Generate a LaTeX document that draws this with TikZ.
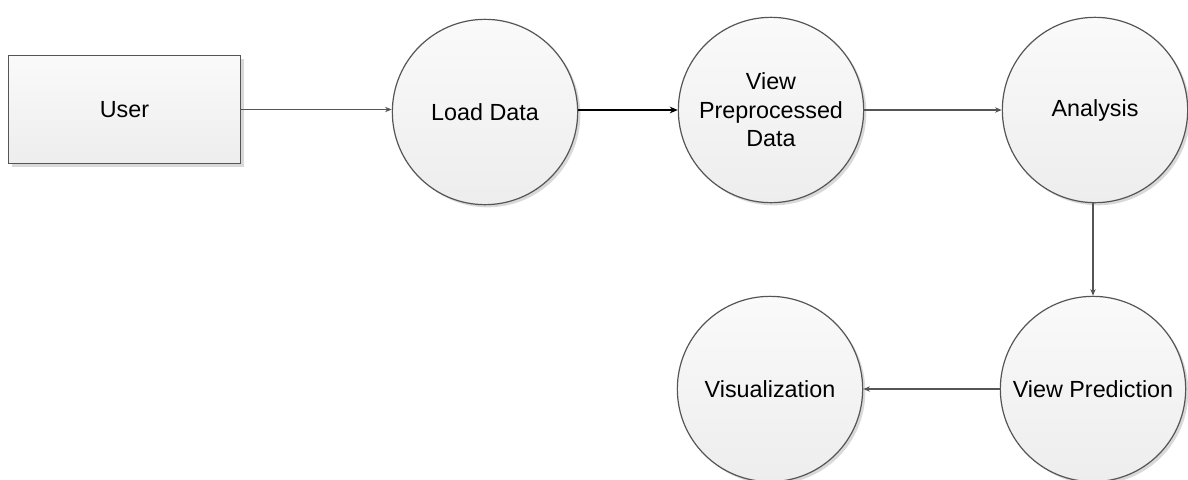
\documentclass[tikz,border=0pt]{standalone}
\usepackage{fontspec}
\setmainfont{Liberation Sans}
\usetikzlibrary{arrows.meta,shadows}
\definecolor{edge}{HTML}{555555}
\tikzset{
  proc/.style={circle, draw=edge, line width=0.9pt, minimum size=139pt, inner sep=0pt,
    top color=white!98!black, bottom color=black!7, align=center,
    font=\fontsize{17.5}{21.4}\selectfont,
    drop shadow={shadow xshift=2pt, shadow yshift=-2pt, fill=black!15, opacity=1}},
  ent/.style={rectangle, draw=edge, line width=0.9pt, minimum width=174pt, minimum height=81.5pt,
    top color=white!98!black, bottom color=black!7, inner sep=0pt,
    font=\fontsize{17.5}{21.4}\selectfont,
    drop shadow={shadow xshift=2.5pt, shadow yshift=-2.5pt, fill=black!15, opacity=1}},
  flow/.style={draw=edge, line width=1pt, -{Stealth[length=5pt,width=4pt]}},
  flowdark/.style={draw=black, line width=1.3pt, -{Stealth[length=6pt,width=5pt]}}
}
\begin{document}
\begin{tikzpicture}[x=0.75pt,y=-0.75pt]
\useasboundingbox (0,0) rectangle (1188,479);
\node[ent] (user) at (124.5,109.5) {User};
\node[proc] (load) at (485,112) {Load Data};
\node[proc] (vpd) at (771,110) {View\\Preprocessed\\Data};
\node[proc] (ana) at (1095,110) {Analysis};
\node[proc] (vp) at (1093,389) {View Prediction};
\node[proc] (vis) at (770,389) {Visualization};
\draw[flow] (user.east) -- (user.east -| load.west);
\draw[flowdark] (load.east |- vpd.west) -- (vpd.west);
\draw[flow] (vpd.east) -- (ana.west);
\draw[flow] (ana.south -| vp.north) -- (vp.north);
\draw[flow] (vp.west) -- (vis.east);
\end{tikzpicture}
\end{document}
